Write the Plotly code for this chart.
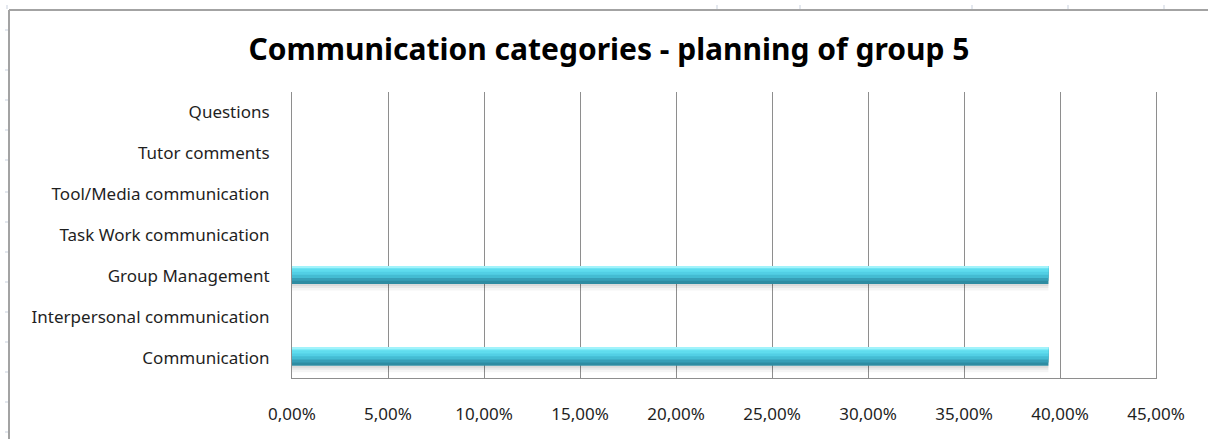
import plotly.graph_objects as go

# Communication categories (bottom to top as drawn)
categories = [
    "Communication",
    "Interpersonal communication",
    "Group Management",
    "Task Work communication",
    "Tool/Media communication",
    "Tutor comments",
    "Questions",
]
shares = [0.394, 0.0, 0.394, 0.0, 0.0, 0.0, 0.0]
tick_values = [0.00, 0.05, 0.10, 0.15, 0.20, 0.25, 0.30, 0.35, 0.40, 0.45]

W, H = 1208, 439
L, R, T, B = 292, 52, 92, 61
PW, PH = W - L - R, H - T - B

FONT = "Noto Sans"
TXT = "#1f1f1f"
GRID = "#8e8e8e"

fig = go.Figure()

# Soft shadow fading out below each bar
for off, wd, col in [(-0.36, 0.16, "rgba(0,0,0,0.04)"),
                     (-0.30, 0.10, "rgba(0,0,0,0.05)"),
                     (-0.25, 0.05, "rgba(0,0,0,0.06)")]:
    fig.add_trace(go.Bar(
        y=categories, x=shares, orientation="h",
        offset=off, width=wd, marker=dict(color=col, line=dict(width=0)),
        hoverinfo="skip", showlegend=False,
    ))

# Cylinder shading: stacked bands from dark lower edge to bright top
bands = [
    (-0.20, 0.44, "#2e8ca2"),
    (-0.12, 0.36, "#379fb7"),
    (-0.05, 0.29, "#44bcd3"),
    (0.03, 0.21, "#52cfe5"),
    (0.10, 0.14, "#5fdcee"),
    (0.18, 0.06, "#80ebf8"),
    (0.215, 0.025, "#a2f3fb"),
]
for off, wd, col in bands:
    fig.add_trace(go.Bar(
        y=categories, x=shares, orientation="h",
        offset=off, width=wd, marker=dict(color=col, line=dict(width=0)),
        hoverinfo="skip", showlegend=False,
    ))


def px_x(p):
    return (p - L) / PW


def px_y(p):
    return (H - B - p) / PH


shapes = [
    # Outer frame of the chart object
    dict(type="line", xref="paper", yref="paper",
         x0=px_x(9), x1=px_x(W), y0=px_y(10), y1=px_y(10),
         line=dict(color="#a3a3a3", width=2)),
    dict(type="line", xref="paper", yref="paper",
         x0=px_x(9), x1=px_x(9), y0=px_y(10), y1=px_y(H),
         line=dict(color="#a3a3a3", width=2)),
]
# Sheet cell boundaries peeking out around the frame
for yy in [30, 70, 100, 130, 160, 192, 222, 252, 282, 312, 342, 372, 402, 432]:
    shapes.append(dict(type="line", xref="paper", yref="paper",
                       x0=px_x(5), x1=px_x(8), y0=px_y(yy), y1=px_y(yy),
                       line=dict(color="#c9d1de", width=1)))
for xx in [7, 717, 800, 972, 1068, 1164]:
    shapes.append(dict(type="line", xref="paper", yref="paper",
                       x0=px_x(xx), x1=px_x(xx), y0=px_y(5), y1=px_y(9),
                       line=dict(color="#c9d1de", width=1)))

fig.update_layout(
    width=W, height=H,
    margin=dict(l=L, r=R, t=T, b=B),
    paper_bgcolor="white", plot_bgcolor="white",
    barmode="overlay",
    separators=", ",
    showlegend=False,
    shapes=shapes,
    title=dict(
        text="<b>Communication categories - planning of group 5</b>",
        x=609 / W, xanchor="center", y=1 - 49 / H, yanchor="middle",
        font=dict(family=FONT, size=30, color="#000000"),
    ),
    font=dict(family=FONT, size=17, color=TXT),
)

fig.update_xaxes(
    range=[0, 0.45], tickvals=tick_values, tickformat=".2%",
    showgrid=True, gridcolor=GRID, gridwidth=1,
    showline=True, linecolor=GRID, linewidth=1,
    zeroline=False, ticks="", ticklabelstandoff=21,
    tickfont=dict(family=FONT, size=17, color=TXT),
)
fig.update_yaxes(
    categoryorder="array", categoryarray=categories,
    showgrid=False, zeroline=False,
    showline=True, mirror=True, linecolor=GRID, linewidth=1,
    ticks="", ticklabelstandoff=18,
    tickfont=dict(family=FONT, size=17, color=TXT),
)

fig.write_html("out.html")
